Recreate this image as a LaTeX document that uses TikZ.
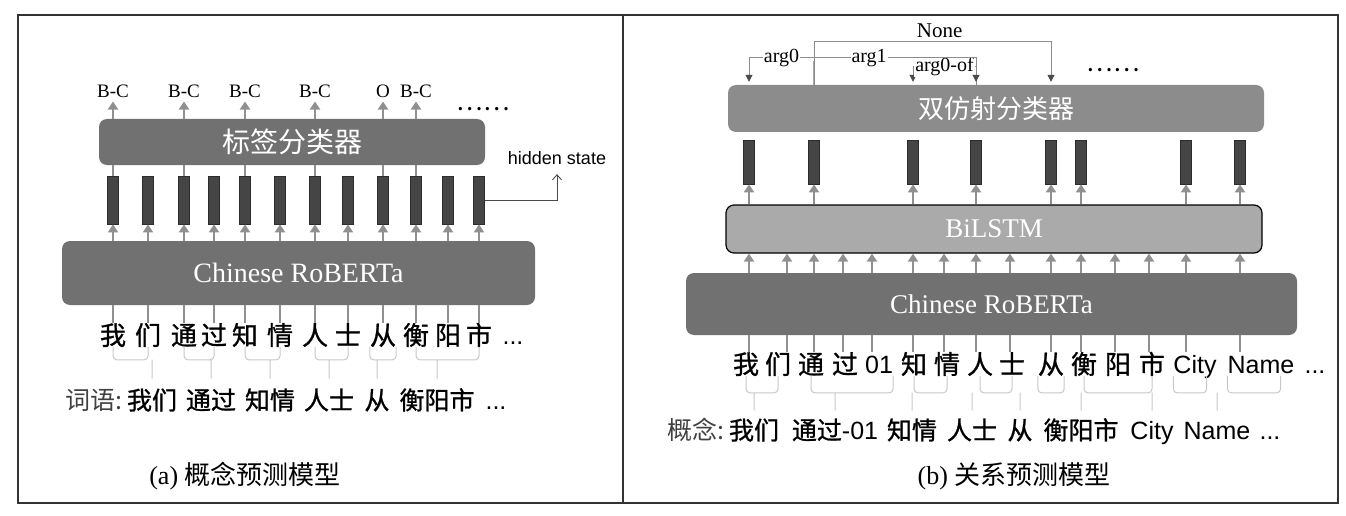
\documentclass[tikz,border=0pt]{standalone}
\usepackage{fontspec}
\usepackage{tikz}
\usepackage{xcolor}
\usetikzlibrary{arrows.meta}
\setmainfont{Liberation Serif}
\newfontfamily\cjk{Noto Sans CJK SC}
\newfontfamily\cjkb{Noto Sans CJK SC}[FakeBold=1]
\newfontfamily\lsans{Liberation Sans}

\definecolor{boxdark}{HTML}{717171}
\definecolor{boxmid}{HTML}{8C8C8C}
\definecolor{boxlight}{HTML}{AAAAAA}
\definecolor{cellfill}{HTML}{454545}
\definecolor{celledge}{HTML}{2C2C2C}
\definecolor{arrowgray}{HTML}{909090}
\definecolor{bracegray}{HTML}{C8C8C8}
\definecolor{relgray}{HTML}{8C8C8C}
\definecolor{reltip}{HTML}{4A4A4A}
\definecolor{framegray}{HTML}{333333}

\tikzset{
    block/.style={rounded corners=8pt, inner sep=0pt, text=white},
    cell/.style={draw=celledge, fill=cellfill, line width=0.8pt, minimum width=11pt, inner sep=0pt},
    flow/.style={draw=arrowgray, line width=2.6pt, -{Triangle[width=10pt,length=8pt]}},
    stub/.style={draw=arrowgray, line width=2.6pt},
    brc/.style={draw=bracegray, line width=1pt, rounded corners=4pt},
    rel/.style={draw=relgray, line width=0.9pt, -{Triangle[width=7pt,length=7pt,color=reltip]}},
    rellab/.style={fill=white, inner sep=1pt, font=\fontsize{20}{22}\selectfont},
    tag/.style={font=\fontsize{19}{20}\selectfont},
    tok/.style={inner sep=0pt, text height=21.6pt, text depth=1.8pt, font=\cjkb\fontsize{26}{30}\selectfont},
    ltok/.style={inner sep=0pt, text height=21.6pt, text depth=1.8pt, font=\lsans\fontsize{25}{30}\selectfont},
    word/.style={inner sep=0pt, text height=20.75pt, text depth=1.75pt, font=\cjkb\fontsize{25}{30}\selectfont}
}

\begin{document}
\begin{tikzpicture}[x=1pt,y=-1pt]
        \useasboundingbox (0,0) rectangle (1346,516);
        \draw[framegray, line width=1.5pt] (18,15) rectangle (1338,503);
        \draw[framegray, line width=1.2pt] (623,15) -- (623,503);

        \node[block, fill=boxdark, minimum width=386pt, minimum height=46pt, font=\cjk\fontsize{28}{30}\selectfont] (clsA) at (292,142) {标签分类器};
        \node[block, fill=boxdark, minimum width=473pt, minimum height=64pt, font=\fontsize{28}{30}\selectfont] (robA) at (298.5,273) {Chinese RoBERTa};
        \foreach \x/\t [count=\i] in {113/我,148/们,184/通,214/过,245/知,280/情,315/人,348/士,383/从,416/衡,448/阳,479/市} {
            \node[cell, minimum height=48pt] (hA\i) at (\x,200) {};
            \node[tok] (cA\i) at (\x,335) {\t};
            \draw[flow] (robA.north -| hA\i) -- (hA\i.south);
            \draw[stub] (robA.south -| cA\i) -- (cA\i.north);
        }
        \node[ltok] (cA13) at (513,335) {...};
        \foreach \i/\t in {1/B-C,3/B-C,5/B-C,7/B-C,9/O,10/B-C} {
            \node[tag] (lA\i) at ([yshift=84pt]hA\i.north) {\t};
            \draw[flow] (clsA.north -| lA\i) -- (lA\i.south);
            \draw[stub] (hA\i.north) -- (hA\i.north |- clsA.south);
        }
        \node[font=\cjk\fontsize{25}{28}\selectfont] (moreA) at (483,109) {……};
        \node[font=\lsans\fontsize{18}{20}\selectfont] (hid) at (557,158) {hidden state};
        \draw[draw=reltip, line width=0.9pt, -{Straight Barb[length=5pt,width=9pt]}, shorten >=6pt] (hA12.east) -| (hid.south);

        \node[word, anchor=east, font=\cjk\fontsize{25}{30}\selectfont, text=black!75] (labA) at (123,400) {词语:};
        \foreach \x/\t [count=\i] in {152/我们,211/通过,270/知情,329/人士,377/从,437/衡阳市} {
            \node[word] (wA\i) at (\x,400) {\t};
        }
        \node[word, font=\lsans\fontsize{25}{30}\selectfont] (wA7) at (496,400) {...};
        \draw[brc] (cA1.south) -- ++(0,13) -| (cA2.south) (wA1.north) ++(0,-10) -- ++(0,-19);
        \draw[brc] (cA3.south) -- ++(0,13) -| (cA4.south) (wA2.north) ++(0,-10) -- ++(0,-19);
        \draw[brc] (cA5.south) -- ++(0,13) -| (cA6.south) (wA3.north) ++(0,-10) -- ++(0,-19);
        \draw[brc] (cA7.south) -- ++(0,13) -| (cA8.south) (wA4.north) ++(0,-10) -- ++(0,-19);
        \draw[brc] (cA9.south west) -- ++(0,13) -| (cA9.south east) (wA5.north) ++(0,-10) -- ++(0,-19);
        \draw[brc] (cA10.south) -- ++(0,13) -| (cA12.south) (wA6.north) ++(0,-10) -- ++(0,-19);
        \node[font=\fontsize{26}{30}\selectfont] (capA) at (245,476) {(a) {\cjk 概念预测模型}};

        \node[block, fill=boxmid, minimum width=536pt, minimum height=47pt, font=\cjk\fontsize{26}{30}\selectfont] (clsB) at (996,108.5) {双仿射分类器};
        \node[block, draw=black, line width=1.2pt, fill=boxlight, minimum width=536pt, minimum height=48pt, font=\fontsize{27}{30}\selectfont] (lstm) at (994,229) {BiLSTM};
        \node[block, fill=boxdark, minimum width=611pt, minimum height=62pt, font=\fontsize{27}{30}\selectfont] (robB) at (991.5,304) {Chinese RoBERTa};
        \foreach \x [count=\i] in {749,787,814,843,872,913,944,976,1010,1051,1081,1115,1149,1186,1240} {
            \coordinate (kB\i) at (\x,304);
        }
        \foreach \x/\t/\n in {746/我/1,778/们/2,811/通/3,845/过/4,914/知/6,947/情/7,980/人/8,1012/士/9,1051/从/10,1084/衡/11,1118/阳/12,1152/市/13} {
            \node[tok] (cB\n) at (\x,364) {\t};
        }
        \foreach \x/\t/\n in {879/01/5,1195/City/14,1261/Name/15} {
            \node[ltok] (cB\n) at (\x,364) {\t};
        }
        \node[ltok] (cB16) at (1315,364) {...};
        \foreach \i in {1,...,15} {
            \draw[flow] (robB.north -| kB\i) -- (lstm.south -| kB\i);
            \draw[stub] (robB.south -| kB\i) -- (kB\i |- cB\i.north);
        }
        \foreach \x [count=\j] in {749,814,913,976,1051,1081,1186,1240} {
            \node[cell, minimum height=44pt] (hB\j) at (\x,162) {};
            \draw[flow] (lstm.north -| hB\j) -- (hB\j.south);
        }
        \node[font=\cjk\fontsize{25}{28}\selectfont] (moreB) at (1113,70) {……};

        \draw[stub, line width=2pt, draw=arrowgray!80] (clsB.north -| hB2) -- ++(0,-24);
        \draw[rel] (clsB.north -| hB4) -- ++(0,-18) -| node[rellab, pos=0.25] {arg0-of} ([yshift=3pt]clsB.north -| hB3);
        \draw[rel] (clsB.north -| hB2) -- ++(0,-27) -| node[rellab, pos=0.25] {arg0} ([yshift=3pt]clsB.north -| hB1);
        \draw[rel] (clsB.north -| hB2) -- ++(0,-27) -| node[rellab, pos=0.17] {arg1} ([yshift=3pt]clsB.north -| hB4);
        \draw[rel] (clsB.north -| hB2) -- ++(0,-43) -| node[above, pos=0.265, font=\fontsize{21}{22}\selectfont] {None} ([yshift=3pt]clsB.north -| hB5);

        \node[word, anchor=east, font=\cjk\fontsize{25}{30}\selectfont, text=black!75] (labB) at (725,430) {概念:};
        \node[word] (wB1) at (754,430) {我们};
        \node[word] (wB2) at (835,430) {通过{\lsans -01}};
        \node[word] (wB3) at (912,430) {知情};
        \node[word] (wB4) at (972,430) {人士};
        \node[word] (wB5) at (1020,430) {从};
        \node[word] (wB6) at (1081,430) {衡阳市};
        \node[word, font=\lsans\fontsize{25}{30}\selectfont] (wB7) at (1152,430) {City};
        \node[word, font=\lsans\fontsize{25}{30}\selectfont] (wB8) at (1217,430) {Name};
        \node[word, font=\lsans\fontsize{25}{30}\selectfont] (wB9) at (1270,430) {...};
        \draw[brc] (cB1.south) -- ++(0,17) -| (cB2.south) (wB1.north) ++(0,-8) -- ++(0,-18);
        \draw[brc] (cB3.south) -- ++(0,17) -| (cB5.south east) (wB2.north) ++(0,-8) -- ++(0,-18);
        \draw[brc] (cB6.south) -- ++(0,17) -| (cB7.south) (wB3.north) ++(0,-8) -- ++(0,-18);
        \draw[brc] (cB8.south) -- ++(0,17) -| (cB9.south) (wB4.north) ++(0,-8) -- ++(0,-18);
        \draw[brc] (cB10.south west) -- ++(0,17) -| (cB10.south east) (wB5.north) ++(0,-8) -- ++(0,-18);
        \draw[brc] (cB11.south) -- ++(0,17) -| (cB13.south) (wB6.north) ++(0,-8) -- ++(0,-18);
        \draw[brc] (cB14.south west) -- ++(0,17) -| ([xshift=-10pt]cB14.south east) (wB7.north) ++(0,-8) -- ++(0,-18);
        \draw[brc] (cB15.south west) -- ++(0,17) -| ([xshift=-14pt]cB15.south east) (wB8.north) ++(0,-8) -- ++(0,-18);
        \node[font=\fontsize{26}{30}\selectfont] (capB) at (1014,476) {(b) {\cjk 关系预测模型}};
    \end{tikzpicture}
\end{document}
